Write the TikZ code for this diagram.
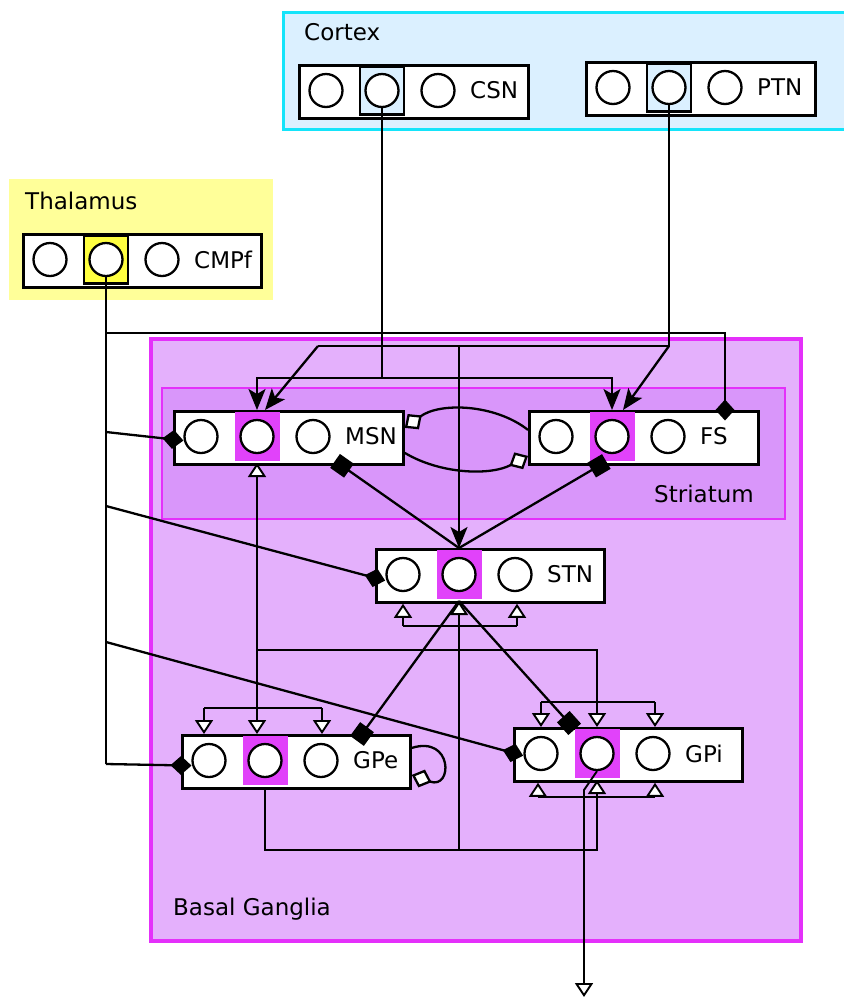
\documentclass[tikz,border=0pt]{standalone}
\usepackage{fontspec}
\setmainfont{DejaVu Sans}
\usepackage{tikz}
\usetikzlibrary{arrows.meta}

\definecolor{ctxfill}{RGB}{219,240,255}
\definecolor{ctxline}{RGB}{20,228,250}
\definecolor{thfill}{RGB}{255,255,153}
\definecolor{thcell}{RGB}{255,255,64}
\definecolor{bgfill}{RGB}{228,176,252}
\definecolor{bgline}{RGB}{228,48,250}
\definecolor{strfill}{RGB}{217,150,250}
\definecolor{bgcell}{RGB}{225,66,250}

\tikzstyle{region} = [rectangle, anchor=north west, inner sep=0pt]
\tikzstyle{regionlabel} = [anchor=base west, inner sep=0pt]
\tikzstyle{popbox} = [rectangle, anchor=north west, 
minimum height=53pt, 
inner sep=0pt, 
draw=black, line width=2.8pt, fill=white]
\tikzstyle{cell} = [rectangle, minimum width=44pt, minimum height=48pt, inner sep=0pt]
\tikzstyle{ctxmid} = [cell, fill=ctxfill, draw=black, line width=2.2pt]
\tikzstyle{thmid} = [cell, fill=thcell, draw=black, line width=2.2pt]
\tikzstyle{bgmid} = [cell, fill=bgcell, draw=bgcell, line width=1pt]
\tikzstyle{neuron} = [circle, minimum size=33pt, inner sep=0pt, draw=black, line width=2.3pt, fill=white]
\tikzstyle{poplabel} = [anchor=west, inner sep=0pt]
\tikzstyle{wire} = [line width=2.3pt]
\tikzstyle{thinwire} = [line width=1.9pt]
\tikzstyle{arrow} = [wire, -{Stealth[length=21pt, width=17pt, inset=5pt]}]
\tikzstyle{diamondarrow} = [wire, -{Diamond[length=21pt, width=19pt]}, shorten >=-10.5pt]
\tikzstyle{squarearrow} = [wire, -{Square[length=17pt, width=17pt]}, shorten >=-8.5pt]
\tikzstyle{hollowarrow} = [wire, -{Diamond[length=21pt, width=19pt, fill=white]}]
\tikzstyle{openarrow} = [thinwire, -{Triangle[length=14pt, width=18pt, fill=white]}]

% name, left, top, width, label, middle cell style
\newcommand{\population}[6]{%
  \node (#1) [popbox, minimum width=#4pt] at (#2,#3) {};
  \node (#1m) [#6] at (#2+84,#3+26.5) {};
  \node (#1a) [neuron] at (#2+28,#3+26.5) {};
  \node (#1b) [neuron] at (#2+84,#3+26.5) {};
  \node (#1c) [neuron] at (#2+140,#3+26.5) {};
  \node (#1t) [poplabel] at (#2+172,#3+26.5) {#5};
  \coordinate (#1top) at (#2+84,#3);
  \coordinate (#1bot) at (#2+84,#3+53);
}

\begin{document}
\begin{tikzpicture}[x=1pt, y=-1pt, font=\fontsize{23}{28}\selectfont]
\useasboundingbox (0,0) rectangle (844,997);

% regions
\node (cortex) [region, fill=ctxfill, draw=ctxline, line width=2.5pt, minimum width=570pt, minimum height=117pt] at (282,11) {};
\node (thalamus) [region, fill=thfill, minimum width=264pt, minimum height=121pt] at (9,179) {};
\node (bg) [region, fill=bgfill, draw=bgline, line width=3.5pt, minimum width=650pt, minimum height=602pt] at (149,337) {};
\node (striatum) [region, fill=strfill, draw=bgline, line width=1.8pt, minimum width=623pt, minimum height=131pt] at (161,387) {};

\node (cortexname) [regionlabel] at (304,40) {Cortex};
\node (thalamusname) [regionlabel] at (25,209) {Thalamus};
\node (striatumname) [regionlabel] at (654,502) {Striatum};
\node (bgname) [regionlabel] at (173,915) {Basal Ganglia};

\population{csn}{298}{64}{229}{CSN}{ctxmid}
\population{ptn}{585}{61}{229}{PTN}{ctxmid}
\population{cmpf}{22}{233}{238}{CMPf}{thmid}
\population{msn}{173}{410}{229}{MSN}{bgmid}
\population{fs}{528}{410}{229}{FS}{bgmid}
\population{stn}{375}{548}{228}{STN}{bgmid}
\population{gpe}{181}{734}{228}{GPe}{bgmid}
\population{gpi}{513}{727}{228}{GPi}{bgmid}

% cortex
\coordinate (csnj) at (382,378);
\draw [wire] (csnb.south) -- (csnj);
\draw [arrow] (csnj) -| (msntop);
\draw [arrow] (csnj) -| (fstop);

\coordinate (ptnj) at (669,346);
\coordinate (ptnl) at (318,346);
\coordinate (ptns) at (459,346);
\draw [wire] (ptnb.south) -- (ptnj) -- (ptnl);
\draw [arrow] (ptnl) -- ([xshift=8pt]msntop);
\draw [arrow] (ptnj) -- ([xshift=11pt]fstop);
\draw [arrow] (ptns) -- (stntop);

% thalamus
\coordinate (tha) at (106,333);
\coordinate (thb) at (106,432);
\coordinate (thc) at (106,506);
\coordinate (thd) at (106,642);
\coordinate (the) at (106,764);
\draw [wire] (cmpfb.south) -- (the);
\draw [diamondarrow] (the) -- ([yshift=-3.5pt]gpe.west);
\draw [diamondarrow] (tha) -| ([xshift=197pt]fs.north west);
\draw [diamondarrow] (thb) -- ([yshift=-1.5pt]msn.west);
\draw [diamondarrow] (thc) -- ([yshift=-2pt]stn.west);
\draw [diamondarrow] (thd) -- ([yshift=2pt]gpi.west);

% striatum
\draw [hollowarrow] ([yshift=8pt]fs.west) .. controls (495,404) and (440,402) .. ([yshift=10pt]msn.east);
\draw [hollowarrow] ([yshift=-15pt]msn.east) .. controls (440,474) and (490,476) .. ([yshift=-18pt]fs.west);

\coordinate (msnj) at (257,650);
\coordinate (getl) at (204,708);
\coordinate (getr) at (322,708);
\coordinate (gitl) at (541,702);
\coordinate (gitr) at (655,702);
\draw [openarrow] (msnj) -- (msnbot);
\draw [openarrow] (msnj) -- ([xshift=76pt]gpe.north west);
\draw [openarrow] (msnj) -| (gpitop);
\draw [thinwire] (getl) -- (getr);
\draw [openarrow] (getl) -- ([xshift=23pt]gpe.north west);
\draw [openarrow] (getr) -- ([xshift=141pt]gpe.north west);
\draw [thinwire] (gitl) -- (gitr);
\draw [openarrow] (gitl) -- ([xshift=28pt]gpi.north west);
\draw [openarrow] (gitr) -- ([xshift=142pt]gpi.north west);

% stn
\draw [squarearrow] (stntop) -- ([xshift=169pt]msn.south west);
\draw [squarearrow] (stntop) -- ([xshift=71pt]fs.south west);
\draw [squarearrow] (stnbot) -- ([xshift=181pt]gpe.north west);
\draw [squarearrow] (stnbot) -- ([xshift=56pt,yshift=4pt]gpi.north west);

% gpe
\coordinate (gpej) at (265,850);
\coordinate (stnj) at (459,850);
\coordinate (stbl) at (403,626);
\coordinate (stbr) at (517,626);
\coordinate (gibl) at (538,797);
\coordinate (gibr) at (655,797);
\draw [openarrow] (gpebot) -- (gpej) -| (gpibot);
\draw [openarrow] (stnj) -- (stnbot);
\draw [thinwire] (stbl) -- (stbr);
\draw [openarrow] (stbl) -- ([xshift=28pt]stn.south west);
\draw [openarrow] (stbr) -- ([xshift=142pt]stn.south west);
\draw [thinwire] (gibl) -- (gibr);
\draw [openarrow] (gibl) -- ([xshift=25pt]gpi.south west);
\draw [openarrow] (gibr) -- ([xshift=142pt]gpi.south west);
\draw [hollowarrow] ([yshift=14pt]gpe.east) .. controls (453,735) and (453,790) .. ([yshift=-13pt]gpe.east);

% output
\coordinate (gpiout) at (584,790);
\coordinate (outend) at (584,997);
\draw [openarrow] (gpib.south) -- (gpiout) -- (outend);

\end{tikzpicture}
\end{document}
